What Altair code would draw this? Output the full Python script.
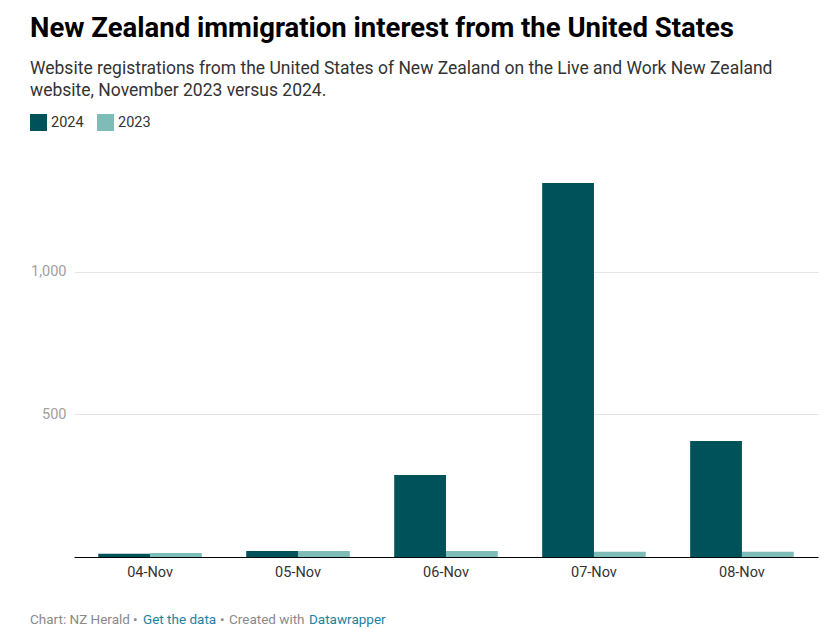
import altair as alt
import pandas as pd

dates = ["04-Nov", "05-Nov", "06-Nov", "07-Nov", "08-Nov"]
values_2024 = [11, 21, 288, 1312, 407]
values_2023 = [14, 21, 21, 18, 18]
years = ["2024", "2023"]
colors = ["#00525a", "#7ebcb8"]

title = "New Zealand immigration interest from the United States"
subtitle = [
    "Website registrations from the United States of New Zealand on the Live and Work New Zealand",
    "website, November 2023 versus 2024.",
]
footer = [
    ("Chart: NZ Herald", "#8a8a8a", 30),
    ("•", "#8a8a8a", 133),
    ("Get the data", "#1d81a2", 143),
    ("•", "#8a8a8a", 220),
    ("Created with", "#8a8a8a", 229),
    ("Datawrapper", "#1d81a2", 309),
]

rows = []
for d, a, b in zip(dates, values_2024, values_2023):
    rows.append({"date": d, "year": "2024", "value": a})
    rows.append({"date": d, "year": "2023", "value": b})
df = pd.DataFrame(rows)

OX, OY = 74, 183  # plot origin on the page
FONT = "Roboto"

bars = alt.Chart(df).mark_bar().encode(
    x=alt.X("date:N", sort=dates, title=None,
            scale=alt.Scale(paddingInner=0.3, paddingOuter=0.164),
            axis=alt.Axis(labelAngle=0, ticks=False, domainColor="#000000",
                          domainWidth=1, labelFontSize=14.5, labelColor="#333333",
                          labelPadding=8, labelFont=FONT, grid=False)),
    xOffset=alt.XOffset("year:N", sort=years, scale=alt.Scale(paddingInner=0)),
    y=alt.Y("value:Q", title=None,
            scale=alt.Scale(domain=[0, 1312], nice=False, zero=True),
            axis=alt.Axis(values=[500, 1000], format=",d", domain=False, ticks=False,
                          grid=True, gridColor="#e5e5e5", gridWidth=1,
                          labelFontSize=14.5, labelColor="#a0a0a0", labelPadding=8,
                          labelFont=FONT)),
    color=alt.Color("year:N", sort=years,
                    scale=alt.Scale(domain=years, range=colors),
                    legend=alt.Legend(title=None, orient="none", legendX=30 - OX,
                                      legendY=114 - OY, direction="horizontal",
                                      symbolType="square", symbolSize=289,
                                      symbolStrokeWidth=0, labelFontSize=14.5,
                                      labelColor="#333333", labelFont=FONT,
                                      columnPadding=13, labelOffset=4)),
)

def text_layer(txt, x, y, size, color, weight="normal"):
    return alt.Chart(pd.DataFrame({"t": [txt]})).mark_text(
        align="left", baseline="alphabetic", fontSize=size, font=FONT,
        color=color, fontWeight=weight,
    ).encode(text="t:N", x=alt.value(x - OX), y=alt.value(y - OY))

layers = [bars]
layers.append(text_layer(title, 30, 37, 27.5, "#000000", "bold"))
layers.append(text_layer(subtitle[0], 30, 74, 17.5, "#333333"))
layers.append(text_layer(subtitle[1], 30, 96, 17.5, "#333333"))
for txt, col, x in footer:
    layers.append(text_layer(txt, x, 624, 13.5, col))

chart = alt.layer(*layers).properties(
    width=744, height=374,
    autosize=alt.AutoSizeParams(type="none"),
    padding={"left": 66, "top": 175, "right": 10, "bottom": 75},
).configure(background="white").configure_view(stroke="transparent", strokeWidth=0)

chart.save("out.html", embed_options={"renderer": "svg", "actions": False})
